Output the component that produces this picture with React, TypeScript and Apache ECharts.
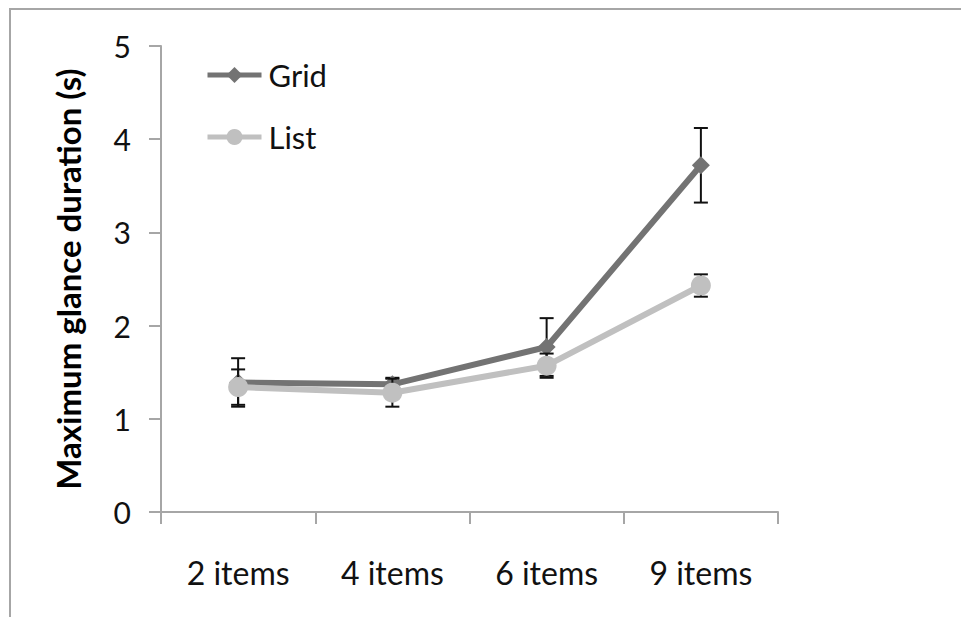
import React, { useEffect, useRef } from "react";
import * as echarts from "echarts";

const categories = ["2 items", "4 items", "6 items", "9 items"];
const gridValues = [1.39, 1.37, 1.77, 3.72];
const gridErrors = [0.26, 0.07, 0.31, 0.4];
const listValues = [1.34, 1.28, 1.57, 2.43];
const listErrors = [0.19, 0.15, 0.13, 0.12];
const yTicks = [0, 1, 2, 3, 4, 5];

const FONT = "Lato, 'Open Sans', sans-serif";

function errorData(values: number[], errors: number[]) {
  return values.map((v, i) => [i, v - errors[i], v + errors[i]]);
}

function renderErrorBar(params: any, api: any) {
  const x = api.value(0);
  const lo = api.coord([x, api.value(1)]);
  const hi = api.coord([x, api.value(2)]);
  const half = 7;
  const style = { stroke: "#111111", lineWidth: 2 };
  return {
    type: "group",
    children: [
      { type: "line", shape: { x1: lo[0], y1: lo[1], x2: hi[0], y2: hi[1] }, style },
      { type: "line", shape: { x1: lo[0] - half, y1: lo[1], x2: lo[0] + half, y2: lo[1] }, style },
      { type: "line", shape: { x1: hi[0] - half, y1: hi[1], x2: hi[0] + half, y2: hi[1] }, style },
    ],
  };
}

export default function App() {
  const ref = useRef<HTMLDivElement>(null);
  useEffect(() => {
    document.body.style.margin = "0";
    if (!ref.current) return;
    const chart = echarts.init(ref.current, null, { renderer: "svg" });
    chart.setOption({
      animation: false,
      backgroundColor: "#ffffff",
      textStyle: { fontFamily: FONT },
      graphic: [
        {
          type: "rect",
          shape: { x: 10, y: 9, width: 1200, height: 900 },
          style: { fill: "none", stroke: "#a6a6a6", lineWidth: 2 },
          silent: true,
        },
      ],
      legend: {
        orient: "vertical",
        left: 205,
        top: 58,
        padding: 0,
        itemWidth: 54,
        itemHeight: 20,
        itemGap: 28,
        data: ["Grid", "List"],
        lineStyle: { width: 5 },
        textStyle: { fontSize: 31, color: "#111111", fontFamily: FONT, lineHeight: 34, padding: [0, 0, 0, 2] },
      },
      grid: { left: 161, right: 183, top: 46, bottom: 105 },
      xAxis: {
        type: "category",
        data: categories,
        boundaryGap: true,
        axisLine: { lineStyle: { color: "#a6a6a6", width: 2 } },
        axisTick: { show: true, length: 12, lineStyle: { color: "#a6a6a6", width: 2 } },
        axisLabel: { fontSize: 32, color: "#111111", margin: 44, fontFamily: FONT },
        splitLine: { show: false },
      },
      yAxis: {
        type: "value",
        min: yTicks[0],
        max: yTicks[yTicks.length - 1],
        interval: 1,
        name: "Maximum glance duration (s)",
        nameLocation: "middle",
        nameGap: 77,
        nameTextStyle: { fontSize: 33, fontWeight: "bold", color: "#000000", fontFamily: FONT },
        axisLine: { show: true, lineStyle: { color: "#a6a6a6", width: 2 } },
        axisTick: { show: true, length: 12, lineStyle: { color: "#a6a6a6", width: 2 } },
        axisLabel: { fontSize: 30, color: "#111111", margin: 30, fontFamily: FONT },
        splitLine: { show: false },
      },
      series: [
        {
          type: "custom",
          name: "GridErr",
          renderItem: renderErrorBar,
          data: errorData(gridValues, gridErrors),
          z: 1,
          silent: true,
        },
        {
          type: "line",
          name: "Grid",
          data: gridValues,
          symbol: "diamond",
          symbolSize: 18,
          itemStyle: { color: "#737373" },
          lineStyle: { color: "#737373", width: 6 },
          z: 2,
        },
        {
          type: "custom",
          name: "ListErr",
          renderItem: renderErrorBar,
          data: errorData(listValues, listErrors),
          z: 3,
          silent: true,
        },
        {
          type: "line",
          name: "List",
          data: listValues,
          symbol: "circle",
          symbolSize: 20,
          itemStyle: { color: "#c0c0c0" },
          lineStyle: { color: "#c0c0c0", width: 6 },
          z: 4,
        },
      ],
    });
    return () => chart.dispose();
  }, []);
  return <div ref={ref} style={{ width: 961, height: 617 }} />;
}
